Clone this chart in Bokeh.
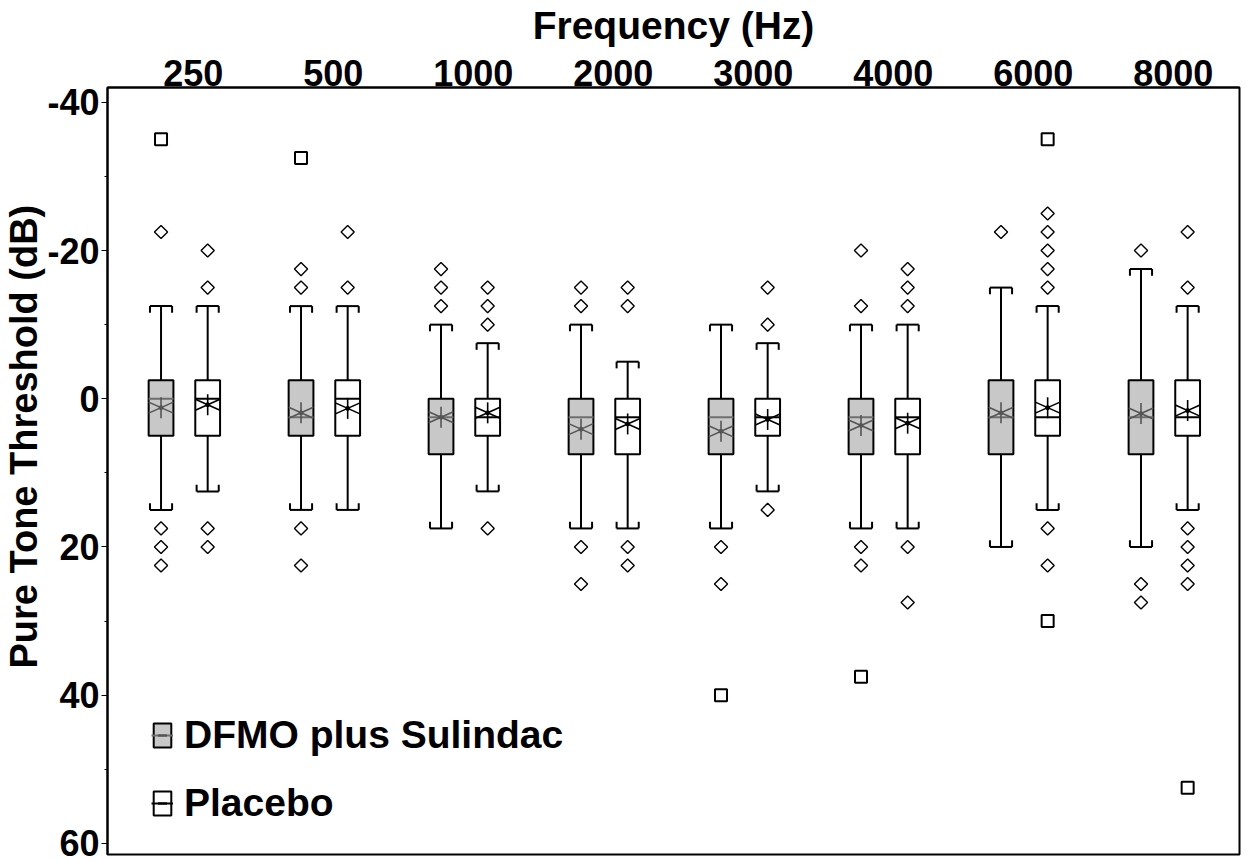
import numpy as np
from bokeh.plotting import figure
from bokeh.models import Range1d, FixedTicker, Legend, LegendItem, Title
from bokeh.embed import file_html
from bokeh.resources import INLINE

freqs = ["250", "500", "1000", "2000", "3000", "4000", "6000", "8000"]

# DFMO plus Sulindac (negative values = better hearing, drawn upward)
dfmo_q1 = [-2.5, -2.5, 0, 0, 0, 0, -2.5, -2.5]
dfmo_med = [0, 2.5, 2.5, 2.5, 2.5, 2.5, 2.5, 2.5]
dfmo_q3 = [5, 5, 7.5, 7.5, 7.5, 7.5, 7.5, 7.5]
dfmo_wlo = [-12.5, -12.5, -10, -10, -10, -10, -15, -17.5]
dfmo_whi = [15, 15, 17.5, 17.5, 17.5, 17.5, 20, 20]
dfmo_mean = [1.2, 1.9, 2.5, 4.1, 4.4, 3.6, 1.9, 2.0]
dfmo_out = [[-22.5, 17.5, 20, 22.5], [-17.5, -15, 17.5, 22.5], [-17.5, -15, -12.5],
            [-15, -12.5, 20, 25], [20, 25], [-20, -12.5, 20, 22.5], [-22.5], [-20, 25, 27.5]]
dfmo_ext = [[-35], [-32.5], [], [], [40], [37.5], [], []]

# Placebo
plac_q1 = [-2.5, -2.5, 0, 0, 0, 0, -2.5, -2.5]
plac_med = [0, 0, 2.5, 2.5, 2.5, 2.5, 2.5, 2.5]
plac_q3 = [5, 5, 5, 7.5, 5, 7.5, 5, 5]
plac_wlo = [-12.5, -12.5, -7.5, -5, -7.5, -10, -12.5, -12.5]
plac_whi = [12.5, 15, 12.5, 17.5, 12.5, 17.5, 15, 15]
plac_mean = [0.8, 1.3, 1.9, 3.4, 2.8, 3.3, 1.2, 1.6]
plac_out = [[-20, -15, 17.5, 20], [-22.5, -15], [-15, -12.5, -10, 17.5],
            [-15, -12.5, 20, 22.5], [-15, -10, 15], [-17.5, -15, -12.5, 20, 27.5],
            [-25, -22.5, -20, -17.5, -15, 17.5, 22.5], [-22.5, -15, 17.5, 20, 22.5, 25]]
plac_ext = [[], [], [], [], [], [], [-35, 30], [52.5]]

y_ticks = [-40, -20, 0, 20, 40, 60]
y_minor = [-30, -10, 10, 30, 50]

FONT = "Liberation Sans"
OFF = 0.1666
BOX_W = 0.177
CAP_W = 0.158
LEG = 0.9
LABEL_SHIFT = 0.064

p = figure(width=1244, height=861, output_backend="svg", toolbar_location=None,
           x_range=Range1d(-0.549, 7.537), y_range=Range1d(61.5, -42),
           x_axis_location="above", min_border_left=60, min_border_right=5,
           min_border_top=86, min_border_bottom=7)
p.grid.visible = False
p.outline_line_color = "black"
p.outline_line_width = 2
p.background_fill_color = "white"
p.border_fill_color = "white"

xa = p.xaxis[0]
xticks = [i + LABEL_SHIFT for i in range(len(freqs))]
xa.ticker = FixedTicker(ticks=xticks)
xa.major_label_overrides = {t: f for t, f in zip(xticks, freqs)}
xa.axis_label = "Frequency (Hz)"
xa.axis_label_text_font = FONT
xa.axis_label_text_font_style = "bold"
xa.axis_label_text_font_size = "39px"
xa.axis_label_text_color = "black"
xa.axis_label_standoff = 10
xa.major_label_text_font = FONT
xa.major_label_text_font_style = "bold"
xa.major_label_text_font_size = "36px"
xa.major_label_text_color = "black"
xa.major_label_standoff = 2
xa.major_tick_out = 0
xa.major_tick_in = 0
xa.minor_tick_out = 0
xa.minor_tick_in = 0
xa.axis_line_color = "black"
xa.axis_line_width = 2

ya = p.yaxis[0]
ya.ticker = FixedTicker(ticks=y_ticks, minor_ticks=y_minor)
ya.major_label_overrides = {t: str(t) for t in y_ticks}
ya.major_label_text_font = FONT
ya.major_label_text_font_style = "bold"
ya.major_label_text_font_size = "36px"
ya.major_label_text_color = "black"
ya.major_label_standoff = 2
ya.major_tick_out = 6
ya.major_tick_in = 0
ya.minor_tick_out = 3
ya.minor_tick_in = 0
ya.major_tick_line_color = "black"
ya.minor_tick_line_color = "black"
ya.axis_line_color = "black"
ya.axis_line_width = 2

ytitle = Title(text="Pure Tone Threshold (dB)", align="left", offset=186,
               text_font=FONT, text_font_style="bold", text_font_size="38px",
               text_color="black", standoff=0)
p.add_layout(ytitle, "left")

idx = np.arange(len(freqs), dtype=float)


def draw_group(xs, q1, med, q3, wlo, whi, mean, outs, exts, fill, med_color, mean_color):
    q1 = np.array(q1, float); q3 = np.array(q3, float)
    wlo = np.array(wlo, float); whi = np.array(whi, float)
    # whiskers
    p.segment(x0=xs, y0=q1, x1=xs, y1=wlo, line_color="black", line_width=2)
    p.segment(x0=xs, y0=q3, x1=xs, y1=whi, line_color="black", line_width=2)
    # caps (bracket shape)
    p.segment(x0=xs - CAP_W / 2, y0=wlo, x1=xs + CAP_W / 2, y1=wlo, line_color="black", line_width=2)
    p.segment(x0=xs - CAP_W / 2, y0=whi, x1=xs + CAP_W / 2, y1=whi, line_color="black", line_width=2)
    for sgn in (-1, 1):
        p.segment(x0=xs + sgn * CAP_W / 2, y0=wlo, x1=xs + sgn * CAP_W / 2, y1=wlo + LEG,
                  line_color="black", line_width=2)
        p.segment(x0=xs + sgn * CAP_W / 2, y0=whi, x1=xs + sgn * CAP_W / 2, y1=whi - LEG,
                  line_color="black", line_width=2)
    box = p.vbar(x=xs, width=BOX_W, top=q1, bottom=q3, fill_color=fill,
                 line_color="black", line_width=2)
    medr = p.segment(x0=xs - BOX_W / 2, y0=med, x1=xs + BOX_W / 2, y1=med,
                     line_color=med_color, line_width=2)
    arms = []
    for ang, sz in ((0.42, 27), (-0.42, 27), (np.pi / 2, 21)):
        arms.append(p.scatter(x=xs, y=mean, marker="dash", size=sz, angle=ang,
                              line_color=mean_color, line_width=1.6))
    p.scatter(x=xs, y=mean, marker="circle", size=4, fill_color=mean_color,
              line_color=mean_color)
    ox = [x for x, o in zip(xs, outs) for _ in o]
    oy = [v for o in outs for v in o]
    p.scatter(x=ox, y=oy, marker="square", angle=np.pi / 4, size=9.3, fill_color=None,
              line_color="black", line_width=1.4)
    ex = [x for x, o in zip(xs, exts) for _ in o]
    ey = [v for o in exts for v in o]
    p.scatter(x=ex, y=ey, marker="square", size=12, fill_color=None,
              line_color="black", line_width=2)
    return [box, medr] + arms


r_d = draw_group(idx - OFF, dfmo_q1, dfmo_med, dfmo_q3, dfmo_wlo, dfmo_whi, dfmo_mean,
                 dfmo_out, dfmo_ext, "#c8c8c8", "#6e6e6e", "#555555")
r_p = draw_group(idx + OFF, plac_q1, plac_med, plac_q3, plac_wlo, plac_whi, plac_mean,
                 plac_out, plac_ext, "white", "black", "black")

legend = Legend(items=[LegendItem(label="DFMO plus Sulindac", renderers=r_d),
                       LegendItem(label="Placebo", renderers=r_p)],
                location=(44, 29), glyph_width=22, glyph_height=30,
                label_text_font=FONT, label_text_font_style="bold",
                label_text_font_size="39px", label_text_color="black",
                label_standoff=11, spacing=24,
                padding=0, margin=0, border_line_color=None,
                background_fill_alpha=0)
p.add_layout(legend, "center")

open("out.html", "w").write(file_html(p, INLINE))
